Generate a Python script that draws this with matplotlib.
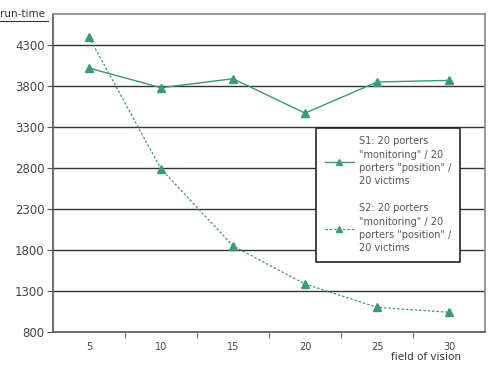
import matplotlib.pyplot as plt
import numpy as np

# 데이터
categories = ['5', '10', '15', '20', '25', '30']
s1_values = [4020, 3780, 3890, 3470, 3850, 3870]
s2_values = [4400, 2790, 1850, 1385, 1100, 1040]
y_ticks = [800, 1300, 1800, 2300, 2800, 3300, 3800, 4300]

s1_label = 'S1: 20 porters\n"monitoring" / 20\nporters "position" /\n20 victims'
s2_label = 'S2: 20 porters\n"monitoring" / 20\nporters "position" /\n20 victims'

green = '#3a9a78'

fig = plt.figure(figsize=(4.9, 3.68), dpi=100)
ax = fig.add_axes([0.108, 0.098, 0.882, 0.864])

x = np.arange(len(categories))
ax.plot(x, s1_values, color=green, lw=1.0, marker='^', ms=6, label=s1_label)
ax.plot(x, s2_values, color=green, lw=0.9, ls=(0, (2, 1.5)), marker='^', ms=6, label=s2_label)

ax.set_xlim(-0.5, len(categories) - 0.5)
ax.set_ylim(800, 4680)
ax.set_yticks(y_ticks)
ax.set_yticklabels([str(v) for v in y_ticks], fontsize=8.5, color='#444444')
ax.set_xticks(x)
ax.set_xticklabels(categories, fontsize=7, color='#444444')
ax.set_xticks(np.arange(0.5, len(categories) - 0.5), minor=True)
ax.tick_params(axis='x', which='major', length=0, pad=7)
ax.tick_params(axis='x', which='minor', length=4, color='#555555')
ax.tick_params(axis='y', length=4, color='#555555', pad=2)

ax.grid(axis='y', color='#333333', lw=1.0)
ax.set_axisbelow(True)
for side in ['left', 'bottom']:
    ax.spines[side].set_color('#555555')
    ax.spines[side].set_linewidth(1.2)
for side in ['top', 'right']:
    ax.spines[side].set_color('#888888')
    ax.spines[side].set_linewidth(1.2)

# 범례
leg = ax.legend(loc='upper left', bbox_to_anchor=(0.597, 0.658), fontsize=7,
                frameon=True, fancybox=False, edgecolor='#222222', framealpha=1,
                handlelength=3.0, handletextpad=0.5, labelspacing=1.8,
                borderpad=0.9, labelcolor='#555555')
leg.get_frame().set_linewidth(1.2)
for t in leg.get_texts():
    t.set_linespacing(1.4)
for h in leg.legend_handles:
    h.set_markersize(4)

fig.text(0.0, 0.962, 'run-time', fontsize=7.5, color='#333333', va='center')
fig.add_artist(plt.Line2D([0.0, 0.098], [0.943, 0.943], color='#333333', lw=0.8))
fig.text(0.94, 0.015, 'field of vision', fontsize=7.5, color='#333333', ha='right', va='bottom')

fig.savefig('out.png', dpi=100)
